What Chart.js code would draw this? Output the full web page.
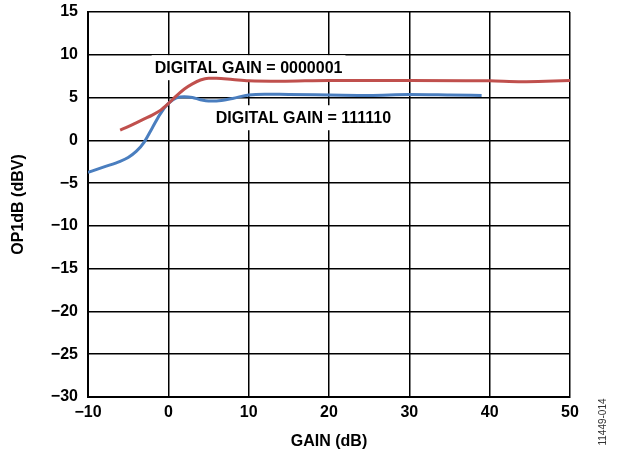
<!DOCTYPE html>
<html>
<head>
<meta charset="utf-8">
<script src="https://cdn.jsdelivr.net/npm/chart.js@4.4.1/dist/chart.umd.min.js"></script>
<style>
  html, body { margin: 0; padding: 0; background: #fff; }
  #wrap { width: 621px; height: 454px; }
</style>
</head>
<body>
<div id="wrap"><canvas id="op1dbChart"></canvas></div>
<script>
// Data
const redGain = [-6, -5, -4, -3, -2, -1, 0, 1, 2, 3, 4, 5, 6, 8, 10, 14, 20, 30, 40, 44, 47, 50];
const redOp1dB = [1.2, 1.6, 2.05, 2.5, 2.95, 3.5, 4.3, 5.2, 6.0, 6.6, 7.05, 7.25, 7.25, 7.1, 6.95, 6.9, 7.0, 7.0, 6.95, 6.85, 6.9, 7.0];

const blueGain = [-10, -8, -6, -5, -4, -3, -2, -1, 0, 1, 2, 3, 4, 5, 6, 8, 10, 12, 15, 20, 25, 30, 35, 39];
const blueOp1dB = [-3.75, -3.1, -2.45, -2.0, -1.3, -0.2, 1.45, 3.1, 4.3, 4.95, 5.1, 5.0, 4.75, 4.6, 4.6, 4.9, 5.3, 5.4, 5.35, 5.3, 5.25, 5.35, 5.3, 5.25];

const xTicks = [-10, 0, 10, 20, 30, 40, 50];
const yTicks = [15, 10, 5, 0, -5, -10, -15, -20, -25, -30];

// curve labels: [text, gain at left edge, op1dB at text centre]
const curveLabels = [
    ['DIGITAL GAIN = 0000001', -1.7, 8.55],
    ['DIGITAL GAIN = 111110', 5.9, 2.7]
];

const FONT = "'Liberation Sans', Arial, sans-serif";

const toPoints = (xs, ys) => xs.map((x, i) => ({ x: x, y: ys[i] }));
const minus = v => String(v).replace('-', '\u2212');

// white-boxed labels under the curves
const labelPlugin = {
    id: 'curveLabels',
    beforeDatasetsDraw(chart) {
        const ctx = chart.ctx;
        const xs = chart.scales.x, ys = chart.scales.y;
        ctx.save();
        ctx.font = 'bold 16px ' + FONT;
        ctx.textBaseline = 'middle';
        ctx.textAlign = 'left';
        curveLabels.forEach(l => {
            const px = xs.getPixelForValue(l[1]);
            const py = ys.getPixelForValue(l[2]);
            const w = ctx.measureText(l[0]).width;
            ctx.fillStyle = '#fff';
            ctx.fillRect(px - 3, py - 12, w + 6, 25);
            ctx.fillStyle = '#000';
            ctx.fillText(l[0], px, py + 1);
        });
        ctx.restore();
    },
    afterDraw(chart) {
        const ctx = chart.ctx;
        ctx.save();
        ctx.font = '10px ' + FONT;
        ctx.fillStyle = '#333';
        ctx.textAlign = 'center';
        ctx.textBaseline = 'middle';
        ctx.translate(603, 422);
        ctx.rotate(-Math.PI / 2);
        ctx.fillText('11449-014', 0, 0);
        ctx.restore();
    }
};

const ctx = document.getElementById('op1dbChart').getContext('2d');
const op1dbChart = new Chart(ctx, {
    type: 'line',
    data: {
        datasets: [{
            label: 'DIGITAL GAIN = 0000001',
            data: toPoints(redGain, redOp1dB),
            borderColor: '#C0504D',
            borderWidth: 3,
            pointRadius: 0,
            cubicInterpolationMode: 'monotone',
            fill: false
        }, {
            label: 'DIGITAL GAIN = 111110',
            data: toPoints(blueGain, blueOp1dB),
            borderColor: '#4A7EBF',
            borderWidth: 3,
            pointRadius: 0,
            cubicInterpolationMode: 'monotone',
            fill: false
        }]
    },
    options: {
        responsive: true,
        maintainAspectRatio: false,
        animation: false,
        layout: {
            padding: { top: 12, right: 51, left: 0, bottom: 0 }
        },
        plugins: {
            legend: { display: false },
            tooltip: { enabled: false }
        },
        scales: {
            x: {
                type: 'linear',
                min: -10,
                max: 50,
                afterBuildTicks: s => { s.ticks = xTicks.map(v => ({ value: v })); },
                afterFit: s => { s.height = 57; s.paddingLeft = 0; s.paddingRight = 0; },
                ticks: {
                    color: '#000',
                    padding: 6,
                    font: { family: FONT, size: 16, weight: 'bold' },
                    callback: v => minus(v)
                },
                grid: { color: '#000', lineWidth: 1.5, drawTicks: false },
                border: { color: '#000', width: 2 },
                title: {
                    display: true,
                    text: 'GAIN (dB)',
                    color: '#000',
                    font: { family: FONT, size: 16, weight: 'bold' },
                    padding: { top: 0, bottom: 3 }
                }
            },
            y: {
                type: 'linear',
                min: -30,
                max: 15,
                afterBuildTicks: s => { s.ticks = yTicks.map(v => ({ value: v })); },
                afterFit: s => { s.width = 88; s.paddingTop = 0; s.paddingBottom = 0; },
                ticks: {
                    color: '#000',
                    padding: 10,
                    font: { family: FONT, size: 16, weight: 'bold' },
                    callback: v => minus(v)
                },
                grid: { color: '#000', lineWidth: 1.5, drawTicks: false },
                border: { color: '#000', width: 2 },
                title: {
                    display: true,
                    text: 'OP1dB (dBV)',
                    color: '#000',
                    font: { family: FONT, size: 16, weight: 'bold' },
                    padding: { top: 9, bottom: 0 }
                }
            }
        }
    },
    plugins: [labelPlugin]
});
</script>
</body>
</html>
